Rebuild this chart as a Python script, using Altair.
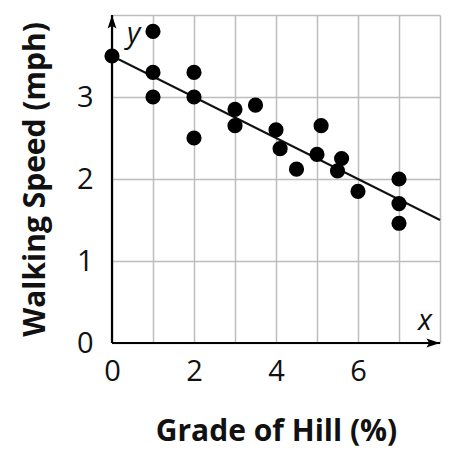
import altair as alt
import pandas as pd

# Data
grade = [0, 1, 1, 1, 2, 2, 2, 3, 3, 3.5, 4, 4.1, 4.5, 5, 5.1, 5.6, 5.5, 6, 7, 7, 7]
speed = [3.5, 3.8, 3.3, 3.0, 3.3, 3.0, 2.5, 2.85, 2.65, 2.9, 2.6, 2.37, 2.12, 2.3, 2.65, 2.25, 2.1, 1.85, 2.0, 1.7, 1.46]

fit_x = [0, 8]
fit_y = [3.5, 1.5]

x_ticks = [0, 1, 2, 3, 4, 5, 6, 7, 8]
y_ticks = [0, 0.5, 1, 1.5, 2, 2.5, 3, 3.5, 4]
x_max = 8
y_max = 4

pts = pd.DataFrame({"grade": grade, "speed": speed})
fit = pd.DataFrame({"grade": fit_x, "speed": fit_y})
yaxis = pd.DataFrame({"grade": [0], "speed": [0], "speed2": [y_max]})
xaxis = pd.DataFrame({"grade": [0], "grade2": [x_max], "speed": [0]})
yarrow = pd.DataFrame({"grade": [0], "speed": [y_max]})
xarrow = pd.DataFrame({"grade": [x_max], "speed": [0]})

FONT = "Open Sans"

xscale = alt.Scale(domain=[0, x_max], nice=False, zero=False)
yscale = alt.Scale(domain=[0, y_max], nice=False, zero=False)

X = alt.X(
    "grade:Q",
    scale=xscale,
    axis=alt.Axis(
        values=x_ticks,
        format="d",
        labelExpr="(datum.value % 2 == 0 && datum.value < 8) ? datum.label : ''",
        grid=True,
        gridColor="#bdbdbd",
        gridWidth=1.5,
        domain=False,
        ticks=False,
        labelFont=FONT,
        labelFontSize=29,
        labelColor="#111111",
        labelPadding=14,
        labelFlush=False,
        title="Grade of Hill (%)",
        titleFont=FONT,
        titleFontSize=30,
        titleFontWeight="bold",
        titleColor="#111111",
        titlePadding=30,
    ),
)
Y = alt.Y(
    "speed:Q",
    scale=yscale,
    axis=alt.Axis(
        values=y_ticks,
        format="d",
        labelExpr="(datum.value % 1 == 0 && datum.value < 4) ? datum.label : ''",
        grid=True,
        gridColor="#bdbdbd",
        gridWidth=1.5,
        domain=False,
        ticks=False,
        labelFont=FONT,
        labelFontSize=29,
        labelColor="#111111",
        labelPadding=19,
        labelFlush=False,
        title="Walking Speed (mph)",
        titleFont=FONT,
        titleFontSize=30,
        titleFontWeight="bold",
        titleColor="#111111",
        titlePadding=26,
    ),
)

base_grid = alt.Chart(fit).mark_line(color="#111111", strokeWidth=2).encode(x=X, y=Y)

dots = alt.Chart(pts).mark_circle(color="#000000", opacity=1, size=230).encode(
    x=alt.X("grade:Q", scale=xscale), y=alt.Y("speed:Q", scale=yscale)
)

yrule = alt.Chart(yaxis).mark_rule(color="#000000", strokeWidth=2.2).encode(
    x=alt.X("grade:Q", scale=xscale),
    y=alt.Y("speed:Q", scale=yscale),
    y2="speed2:Q",
)
xrule = alt.Chart(xaxis).mark_rule(color="#000000", strokeWidth=2.2).encode(
    x=alt.X("grade:Q", scale=xscale),
    x2="grade2:Q",
    y=alt.Y("speed:Q", scale=yscale),
)

ARROW = "M0,-1 L0.55,0.7 L0,0.35 L-0.55,0.7 Z"
yhead = alt.Chart(yarrow).mark_point(
    shape=ARROW, filled=True, color="#000000", opacity=1, size=256, yOffset=8
).encode(x=alt.X("grade:Q", scale=xscale), y=alt.Y("speed:Q", scale=yscale))
xhead = alt.Chart(xarrow).mark_point(
    shape=ARROW, filled=True, color="#000000", opacity=1, size=256, angle=90, xOffset=-8
).encode(x=alt.X("grade:Q", scale=xscale), y=alt.Y("speed:Q", scale=yscale))

ylab = alt.Chart(yarrow).mark_text(
    text="y", font=FONT, fontSize=29, fontStyle="italic", color="#111111",
    align="left", baseline="alphabetic", dx=15, dy=28,
).encode(x=alt.X("grade:Q", scale=xscale), y=alt.Y("speed:Q", scale=yscale))
xlab = alt.Chart(xarrow).mark_text(
    text="x", font=FONT, fontSize=29, fontStyle="italic", color="#111111",
    align="right", baseline="alphabetic", dx=-8, dy=-13,
).encode(x=alt.X("grade:Q", scale=xscale), y=alt.Y("speed:Q", scale=yscale))

chart = (
    alt.layer(base_grid, dots, yrule, xrule, yhead, xhead, ylab, xlab)
    .properties(
        width=328,
        height=328,
        autosize=alt.AutoSizeParams(type="none"),
        padding={"left": 104, "top": 7, "right": 10, "bottom": 116},
        background="white",
    )
    .configure_view(stroke=None)
)

chart.save("out.html", embed_options={"renderer": "svg", "actions": False})
